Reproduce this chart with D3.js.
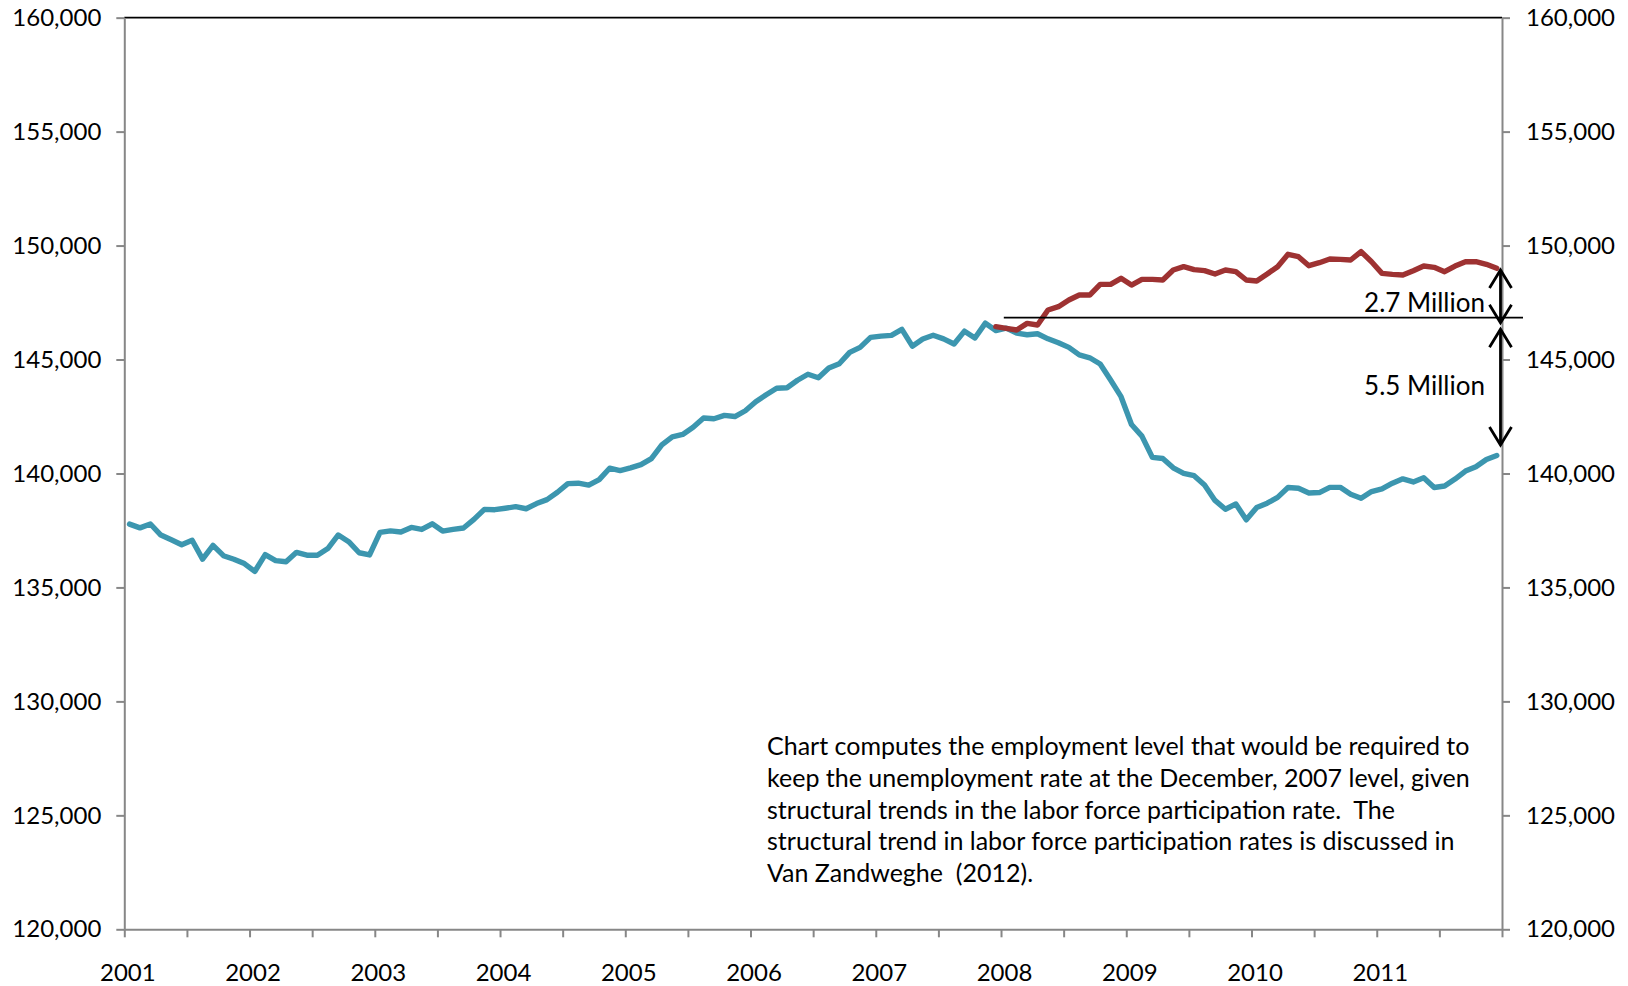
<!DOCTYPE html>
<html>
<head>
<meta charset="utf-8">
<script src="https://cdn.jsdelivr.net/npm/d3@7"></script>
<style>
  body { margin: 0; background: #fff; }
  svg { display: block; }
  text { font-family: Lato, "Open Sans", sans-serif; fill: #000; }
</style>
</head>
<body>
<svg id="chart" width="1628" height="986"></svg>
<script>
// ---------------- data ----------------
const yearLabels = ["2001","2002","2003","2004","2005","2006","2007","2008","2009","2010","2011"];
const yTicks = [120000,125000,130000,135000,140000,145000,150000,155000,160000];

// Employment level (thousands), monthly Jan 2001 - Dec 2011
const employment = [
  137778,137612,137783,137299,137092,136873,137071,136241,136846,136392,136238,136047,
  135701,136438,136177,136126,136539,136415,136413,136705,137302,137008,136521,136426,
  137417,137482,137434,137633,137544,137790,137474,137549,137609,137984,138424,138411,
  138472,138542,138453,138680,138852,139174,139556,139573,139487,139732,140231,140125,
  140245,140385,140654,141254,141609,141714,142026,142434,142401,142548,142499,142752,
  143150,143457,143741,143761,144089,144353,144202,144625,144815,145314,145534,145970,
  146028,146057,146320,145586,145903,146063,145905,145682,146244,145946,146595,146273,
  146378,146156,146086,146132,145908,145737,145532,145203,145076,144802,144100,143369,
  142152,141640,140707,140656,140248,140009,139901,139492,138818,138432,138659,137968,
  138511,138698,138952,139382,139353,139144,139163,139391,139391,139084,138909,139206,
  139323,139573,139764,139628,139808,139385,139450,139754,140107,140297,140614,140790
];

// Required employment level, monthly Dec 2007 - Dec 2011
const requiredStartMonth = 83; // month index of Dec 2007 (Jan 2001 = 0)
const requiredEmployment = [
  146441,
  146368,146295,146587,146514,147172,147318,147611,147830,147830,148298,148298,148562,
  148269,148518,148518,148489,148927,149074,148942,148898,148752,148927,148854,148489,
  148445,148752,149074,149615,149512,149117,149249,149410,149395,149366,149732,149293,
  148781,148737,148708,148898,149103,149044,148854,149103,149293,149293,149176,149000
];

// Annotations (values in thousands)
const referenceLevel = 146835;
const gapArrows = [
  { top: 148928, bottom: 146615, label: "2.7 Million" },
  { top: 146326, bottom: 141249, label: "5.5 Million" }
];
const noteLines = [
  "Chart computes the employment level that would be required to",
  "keep the unemployment rate at the December, 2007 level, given",
  "structural trends in the labor force participation rate.  The",
  "structural trend in labor force participation rates is discussed in",
  "Van Zandweghe  (2012)."
];

// ---------------- layout ----------------
const svg = d3.select("#chart");
const L = 124.3, R = 1502, T = 17.65, B = 929.3;
const axisGray = "#878787";
const blue = "#3C96AF", red = "#9E3232";
const nMonths = employment.length;

const x = d3.scaleLinear().domain([-0.5, nMonths - 0.5]).range([L, R]);
const y = d3.scaleLinear().domain([120000, 160000]).range([B, T]);

// top border
svg.append("line").attr("x1", L).attr("x2", R).attr("y1", y(160000)).attr("y2", y(160000))
  .attr("stroke", "#000").attr("stroke-width", 1.8);

function styleAxis(g) {
  g.select(".domain").attr("stroke", axisGray).attr("stroke-width", 2);
  g.selectAll(".tick line").attr("stroke", axisGray).attr("stroke-width", 2);
  g.selectAll("text").style("font-size", "24px").attr("fill", "#000");
}

// left axis
svg.append("g").attr("transform", `translate(${L},0)`)
  .call(d3.axisLeft(y).tickValues(yTicks).tickSize(8).tickSizeOuter(0).tickPadding(15)
        .tickFormat(d3.format(",")))
  .call(styleAxis);

// right axis
svg.append("g").attr("transform", `translate(${R},0)`)
  .call(d3.axisRight(y).tickValues(yTicks).tickSize(8).tickSizeOuter(0).tickPadding(16)
        .tickFormat(d3.format(",")))
  .call(styleAxis);

// bottom axis: ticks every 6 months, labels each January
const halfYearTicks = d3.range(0, nMonths + 1, 6).map(m => m - 0.5);
const gx = svg.append("g").attr("transform", `translate(0,${B})`)
  .call(d3.axisBottom(x).tickValues(halfYearTicks).tickSize(8).tickSizeOuter(0)
        .tickFormat(d => { const m = d + 0.5; return (m % 12 === 0 && m / 12 < yearLabels.length) ? yearLabels[m / 12] : ""; }))
  .call(styleAxis);
gx.selectAll(".tick text").attr("y", 0).attr("dy", 0).attr("transform", "translate(3,52)");

// lines
const line = d3.line().x(d => x(d.m)).y(d => y(d.v)).curve(d3.curveLinear);
const empData = employment.map((v, i) => ({ m: i, v }));
const reqData = requiredEmployment.map((v, i) => ({ m: requiredStartMonth + i, v }));

svg.append("path").datum(empData).attr("d", line).attr("fill", "none")
  .attr("stroke", blue).attr("stroke-width", 5.4).attr("stroke-linejoin", "round").attr("stroke-linecap", "round");
svg.append("path").datum(reqData).attr("d", line).attr("fill", "none")
  .attr("stroke", red).attr("stroke-width", 5.4).attr("stroke-linejoin", "round").attr("stroke-linecap", "round");

// reference horizontal line
svg.append("line").attr("x1", x(requiredStartMonth) + 8).attr("x2", R + 21)
  .attr("y1", y(referenceLevel)).attr("y2", y(referenceLevel))
  .attr("stroke", "#000").attr("stroke-width", 1.8);

// double-headed arrows
const ax = R - 1.5;
gapArrows.forEach(a => {
  const y1 = y(a.top), y2 = y(a.bottom);
  const g = svg.append("g").attr("stroke", "#000").attr("stroke-width", 2.8).attr("fill", "none");
  g.append("line").attr("x1", ax).attr("x2", ax).attr("y1", y1).attr("y2", y2);
  g.append("path").attr("d", `M${ax - 11},${y1 + 18} L${ax},${y1} L${ax + 11},${y1 + 18}`);
  g.append("path").attr("d", `M${ax - 11},${y2 - 18} L${ax},${y2} L${ax + 11},${y2 - 18}`);
});
svg.append("text").attr("x", 1485).attr("y", 312).attr("text-anchor", "end")
  .style("font-size", "26px").text(gapArrows[0].label);
svg.append("text").attr("x", 1485).attr("y", 395).attr("text-anchor", "end")
  .style("font-size", "26px").text(gapArrows[1].label);

// note
const note = svg.append("text").attr("x", 767).attr("y", 755).style("font-size", "25px")
  .attr("xml:space", "preserve").style("white-space", "pre");
noteLines.forEach((t, i) => {
  note.append("tspan").attr("x", 767).attr("y", 755 + i * 31.8).text(t);
});
</script>
</body>
</html>
